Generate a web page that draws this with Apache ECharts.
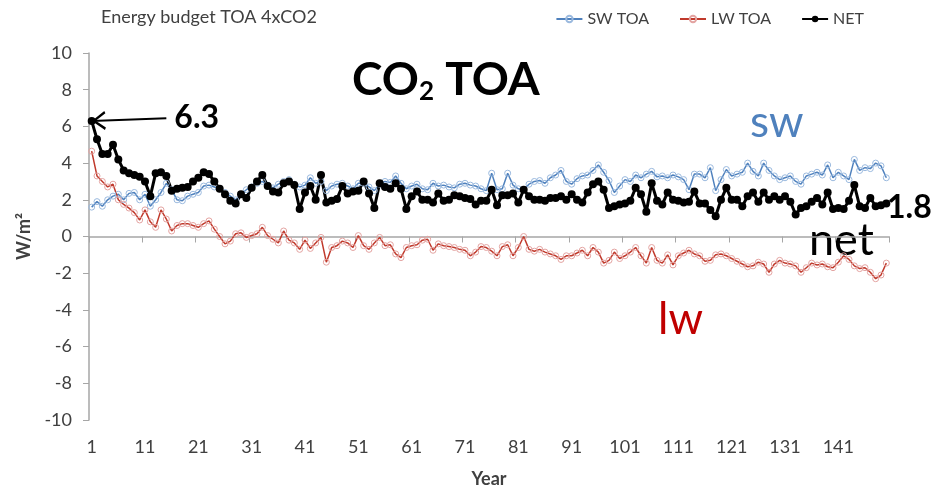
<!DOCTYPE html>
<html>
<head>
<meta charset="utf-8">
<script src="https://cdn.jsdelivr.net/npm/echarts@6/dist/echarts.min.js"></script>
<style>
  html, body { margin: 0; padding: 0; background: #fff; }
  #chart { width: 952px; height: 493px; }
</style>
</head>
<body>
<div id="chart"></div>
<script>
// years 1..150 (category axis)
var years = [];
for (var i = 1; i <= 150; i++) years.push(String(i));

// W/m2 values
var swToa = [
  1.6, 1.9, 1.65, 2.0, 2.2, 2.3, 2.0, 2.35, 2.4, 2.0,
  2.3, 1.65, 2.0, 2.4, 2.9, 2.55, 2.0, 1.95, 2.2, 2.3,
  2.4, 2.75, 2.8, 2.7, 2.6, 2.4, 2.2, 2.0, 2.3, 2.55,
  2.7, 2.9, 3.0, 2.8, 2.65, 2.85, 3.0, 3.1, 2.85, 2.7,
  2.8, 3.2, 2.9, 3.0, 2.5, 2.75, 2.85, 2.9, 2.75, 2.6,
  2.9, 2.9, 2.7, 2.5, 2.85, 3.0, 2.95, 3.3, 2.9, 2.6,
  2.75, 2.85, 2.6, 2.55, 2.9, 2.75, 2.8, 2.7, 2.65, 2.85,
  2.9, 2.8, 2.75, 2.6, 2.5, 3.45, 2.55, 2.6, 3.45, 2.8,
  2.6, 2.55, 2.85, 3.0, 3.05, 2.9, 3.2, 3.35, 3.6, 3.0,
  2.85, 3.15, 3.3, 3.35, 3.6, 3.9, 3.5, 3.05, 2.4, 2.75,
  3.1, 3.0, 3.35, 3.2, 3.4, 3.55, 3.25, 3.3, 3.2, 3.35,
  3.25, 3.1, 2.55, 3.4, 3.4, 3.2, 3.75, 2.5, 3.1, 3.65,
  3.3, 3.4, 3.5, 4.0, 3.55, 3.3, 4.0, 3.6, 3.3, 3.1,
  3.2, 3.3, 3.0, 2.85, 3.3, 3.4, 3.5, 3.35, 3.9, 3.2,
  3.5, 3.3, 3.1, 4.2, 3.6, 3.75, 3.7, 4.0, 3.85, 3.2
];
var lwToa = [
  4.65, 3.3, 3.0, 2.7, 2.85, 2.0, 1.75, 1.55, 1.3, 0.9,
  1.45, 0.8, 0.5, 1.45, 0.95, 0.3, 0.6, 0.7, 0.7, 0.6,
  0.5, 0.7, 0.85, 0.4, 0.0, -0.4, -0.25, 0.15, 0.2, -0.05,
  0.05, 0.15, 0.5, 0.05, -0.15, -0.35, 0.3, -0.2, -0.35, -0.7,
  -0.2, -0.65, -0.35, -0.05, -1.4, -0.6, -0.5, -0.25, -0.35, -0.6,
  0.05, -0.5, -0.7, -0.35, -0.05, -0.5, -0.45, -0.95, -1.15, -0.6,
  -0.5, -0.45, -0.2, -0.15, -0.75, -0.4, -0.5, -0.55, -0.6, -0.7,
  -0.75, -1.05, -0.85, -0.55, -0.6, -0.8, -1.05, -0.55, -0.45, -1.05,
  -0.6, 0.0, -0.7, -0.8, -0.7, -0.85, -0.95, -1.05, -1.25, -1.05,
  -1.05, -0.9, -0.75, -1.05, -0.6, -0.85, -1.45, -1.3, -0.85, -1.2,
  -1.05, -0.85, -0.6, -1.05, -1.45, -0.6, -1.3, -1.45, -1.0, -1.55,
  -1.05, -0.9, -0.75, -0.95, -1.05, -1.35, -1.3, -1.0, -0.95, -1.05,
  -1.2, -1.35, -1.5, -1.65, -1.6, -1.4, -1.5, -1.95, -1.5, -1.3,
  -1.45, -1.5, -1.6, -1.95, -1.7, -1.45, -1.55, -1.5, -1.65, -1.7,
  -1.4, -1.05, -1.25, -1.6, -1.75, -1.7, -1.95, -2.3, -2.1, -1.45
];
var netToa = [
  6.3, 5.3, 4.5, 4.5, 5.0, 4.2, 3.6, 3.45, 3.35, 3.25,
  3.0, 2.2, 3.45, 3.5, 3.3, 2.5, 2.6, 2.65, 2.7, 3.0,
  3.2, 3.5, 3.4, 3.0, 2.6, 2.3, 1.95, 1.8, 2.3, 2.1,
  2.65, 3.0, 3.35, 2.75, 2.45, 2.4, 2.9, 3.0, 2.8, 1.5,
  2.4, 2.75, 2.0, 3.35, 1.85, 1.95, 2.05, 2.75, 2.35, 2.45,
  2.5, 3.0, 2.35, 1.55, 2.9, 2.7, 2.6, 2.9, 2.6, 1.5,
  2.2, 2.45, 2.0, 2.0, 1.85, 2.35, 1.95, 2.0, 2.25, 2.2,
  2.1, 2.05, 1.75, 1.95, 1.95, 2.55, 1.7, 2.25, 2.25, 2.35,
  1.85, 2.55, 2.2, 2.0, 2.0, 1.95, 2.1, 2.1, 2.2, 2.0,
  2.3, 2.0, 1.85, 2.4, 2.85, 3.0, 2.55, 1.55, 1.65, 1.75,
  1.8, 1.95, 2.65, 2.3, 1.35, 2.9, 1.95, 1.75, 2.4, 2.0,
  1.95, 1.85, 1.9, 2.45, 1.8, 1.8, 1.45, 1.1, 2.0, 2.65,
  2.0, 2.0, 1.65, 2.2, 2.4, 1.9, 2.4, 2.0, 2.2, 2.0,
  2.2, 1.9, 1.2, 1.55, 1.65, 1.9, 2.1, 1.75, 2.4, 1.5,
  1.55, 1.5, 1.95, 2.8, 1.65, 1.55, 2.1, 1.65, 1.7, 1.8
];

var FONT = 'Lato, "Open Sans", sans-serif';
var GREY = '#404040';
// open arrow head, tip in the middle of the box so it lands on the point
var ARROW = 'path://M10,-20 L10.1,-20 L10,-19.9 Z M10,0 L20,18 L17.6,19.5 L10,5.5 L2.4,19.5 L0,18 Z';

var chart = echarts.init(document.getElementById('chart'));
chart.setOption({
  animation: false,
  textStyle: { fontFamily: FONT },
  title: {
    text: 'Energy budget TOA 4xCO2',
    left: 96, top: 3,
    textStyle: { fontFamily: FONT, fontSize: 18, fontWeight: 'normal', color: GREY }
  },
  legend: {
    data: ['SW TOA', 'LW TOA', 'NET'],
    top: 6, right: 83,
    itemGap: 30, itemWidth: 26, itemHeight: 8,
    textStyle: { fontFamily: FONT, fontSize: 16, color: GREY }
  },
  grid: { left: 89, right: 63, top: 53, bottom: 73 },
  xAxis: [
    {
      // labels along the bottom
      type: 'category', data: years, position: 'bottom', boundaryGap: true,
      axisLine: { show: false, onZero: false },
      axisTick: { show: false },
      axisLabel: { interval: 9, fontSize: 18, color: GREY, margin: 18 },
      name: 'Year', nameLocation: 'middle', nameGap: 50,
      nameTextStyle: { fontFamily: FONT, fontSize: 18, fontWeight: 'bold', color: GREY }
    },
    {
      // axis line + ticks crossing at zero
      type: 'category', data: years, position: 'top', boundaryGap: true,
      axisLine: { show: true, onZero: true, lineStyle: { color: '#a6a6a6', width: 1.5 } },
      axisTick: { show: true, interval: 9, inside: true, length: 6, lineStyle: { color: '#a6a6a6' } },
      axisLabel: { show: false }
    }
  ],
  yAxis: {
    type: 'value', min: -10, max: 10, interval: 2,
    axisLine: { show: true, lineStyle: { color: '#a6a6a6', width: 1.5 } },
    axisTick: { show: true, length: 6, lineStyle: { color: '#a6a6a6' } },
    splitLine: { show: false },
    axisLabel: { fontSize: 18, color: GREY, margin: 17 },
    name: 'W/m²', nameLocation: 'middle', nameGap: 48, nameRotate: 90,
    nameTextStyle: { fontFamily: FONT, fontSize: 18, fontWeight: 'bold', color: GREY }
  },
  series: [
    {
      name: 'SW TOA', type: 'line', data: swToa, xAxisIndex: 0,
      symbol: 'circle', symbolSize: 6, showAllSymbol: true,
      lineStyle: { color: '#4f81bd', width: 1.5 },
      itemStyle: { color: 'rgba(255,255,255,0)', borderColor: '#9ab9de', borderWidth: 1 }
    },
    {
      name: 'LW TOA', type: 'line', data: lwToa, xAxisIndex: 0,
      symbol: 'circle', symbolSize: 6, showAllSymbol: true,
      lineStyle: { color: '#c0392b', width: 1.5 },
      itemStyle: { color: 'rgba(255,255,255,0)', borderColor: '#e3a3a1', borderWidth: 1 }
    },
    {
      name: 'NET', type: 'line', data: netToa, xAxisIndex: 0,
      symbol: 'circle', symbolSize: 8, showAllSymbol: true,
      lineStyle: { color: '#000', width: 3 },
      itemStyle: { color: '#000' },
      markLine: {
        silent: true,
        symbol: [ARROW, 'none'],
        symbolSize: [19, 28],
        lineStyle: { color: '#000', width: 2, type: 'solid' },
        label: { show: true, position: 'end', formatter: '6.3', distance: 8,
                 fontFamily: FONT, fontSize: 32, fontWeight: 'bold', color: '#000' },
        data: [[{ coord: ['1', 6.3] }, { coord: ['15', 6.45] }]]
      }
    }
  ],
  graphic: [
    { type: 'text', x: 352, y: 80, style: {
        text: '{a|CO}{b|2}{a| TOA}', fill: '#000', verticalAlign: 'middle',
        rich: {
          a: { fontFamily: FONT, fontSize: 46, fontWeight: 'bold', lineHeight: 50 },
          b: { fontFamily: FONT, fontSize: 26, fontWeight: 'bold', lineHeight: 24, verticalAlign: 'bottom' }
        } } },
    { type: 'text', x: 750, y: 123, style: { text: 'sw', fill: '#4f81bd', font: '44px Lato', verticalAlign: 'middle' } },
    { type: 'text', x: 809, y: 240, style: { text: 'net', fill: '#000', font: '45px Lato', verticalAlign: 'middle' } },
    { type: 'text', x: 658, y: 320, style: { text: 'lw', fill: '#c00000', font: '44px Lato', verticalAlign: 'middle' } },
    { type: 'text', x: 887, y: 208, style: { text: '1.8', fill: '#000', font: 'bold 32px Lato', verticalAlign: 'middle' } }
  ]
});
</script>
</body>
</html>
